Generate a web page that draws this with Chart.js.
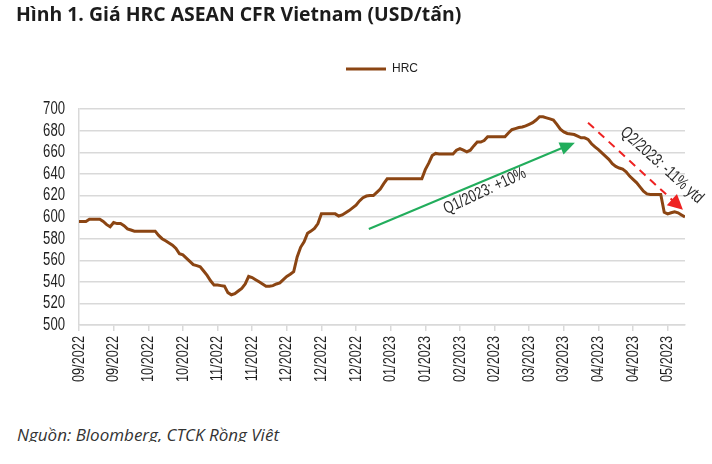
<!DOCTYPE html>
<html>
<head>
<meta charset="utf-8">
<script src="https://cdn.jsdelivr.net/npm/chart.js@4"></script>
<style>
  html, body { margin: 0; padding: 0; background: #fff; }
  body { width: 712px; height: 464px; position: relative; overflow: hidden; }
  #title { position: absolute; left: 16px; top: 0px; font: bold 19.4px "Open Sans", sans-serif; color: #1c1c1c; white-space: nowrap; }
  #wrap { position: absolute; left: 0; top: 0; width: 712px; height: 410px; }
  #note-clip { position: absolute; left: 0; top: 420px; width: 712px; height: 22px; overflow: hidden; }
  #note { position: absolute; left: 17px; top: 3px; font: italic 17px "Open Sans", sans-serif; color: #333; white-space: nowrap; }
</style>
</head>
<body>
<div id="wrap"><canvas id="c"></canvas></div>
<div id="title">Hình 1. Giá HRC ASEAN CFR Vietnam (USD/tấn)</div>
<div id="note-clip"><div id="note">Nguồn: Bloomberg, CTCK Rồng Việt</div></div>
<script>
// ------- Data (daily HRC price, USD/t) -------
const tickLabels = ['09/2022','09/2022','10/2022','10/2022','11/2022','11/2022','12/2022','12/2022','12/2022',
  '01/2023','01/2023','02/2023','02/2023','03/2023','03/2023','04/2023','04/2023','05/2023'];
const tickEvery = 10; // one label per 10 sessions

const hrc = [
  596, 596, 596, 598, 598, 598, 598, 596, 593, 591,
  595, 594, 594, 592, 589, 588, 587, 587, 587, 587,
  587, 587, 587, 583, 580, 578, 576, 574, 571, 566,
  565, 562, 559, 556, 555, 554, 550, 546, 541, 537,
  537, 536.5, 536, 530, 528, 529, 531.5, 534, 538, 545,
  544, 542, 540, 538, 536, 536, 536.5, 538, 539, 542,
  545, 547, 549.5, 563, 572, 577, 585, 587, 589.5, 594,
  603, 603, 603, 603, 603, 601, 602, 604, 606, 608.5,
  611, 615, 618, 619.5, 620, 620, 623, 626, 631, 635.5,
  635.5, 635.5, 635.5, 635.5, 635.5, 635.5, 635.5, 635.5, 635.5, 635.5,
  644, 650, 657, 659, 658.5, 658.5, 658.5, 658.5, 658.5, 662,
  663.5, 662, 660.5, 662, 666, 669.5, 669.5, 671, 674.5, 674.5,
  674.5, 674.5, 674.5, 674.5, 678, 681, 682, 683, 683.5, 684.5,
  686, 687.5, 690, 693, 693, 692, 691, 690, 686, 681.5,
  679, 677.5, 677, 676.5, 675, 673.5, 673.5, 672, 668, 665,
  662.5, 659.5, 656.5, 653.5, 649.5, 647, 645.5, 644.5, 642, 638,
  635, 632, 628, 624, 621.5, 621, 621, 621, 621, 604.5,
  603, 604, 605, 604, 602, 600
];

// annotations, in (session index, price)
const upArrow   = { from: [83.7, 589], to: [143.2, 669] };
const downArrow = { from: [147, 687.5], to: [174.4, 606.8] };
const upNote    = { at: [117.2, 624], angle: -25, text: 'Q1/2023: +10%' };
const downNote  = { at: [168.3, 648], angle: 42, text: 'Q2/2023: -11% ytd' };

// the source uses a tall narrow face; squeeze Liberation Sans to get close
const FACE = '"Liberation Sans", Arial, sans-serif';
const SQUEEZE = 0.75;
const BROWN = '#8b4513';
const GRID = '#d9d9d9';
const INK = '#1e1e1e';

function arrowHead(ctx, x0, y0, x1, y1, len, half) {
  const a = Math.atan2(y1 - y0, x1 - x0);
  ctx.beginPath();
  ctx.moveTo(x1, y1);
  ctx.lineTo(x1 - len * Math.cos(a) + half * Math.sin(a), y1 - len * Math.sin(a) - half * Math.cos(a));
  ctx.lineTo(x1 - len * Math.cos(a) - half * Math.sin(a), y1 - len * Math.sin(a) + half * Math.cos(a));
  ctx.closePath();
  ctx.fill();
}

function narrowText(ctx, text, x, y, rot, align) {
  ctx.save();
  ctx.translate(x, y);
  ctx.rotate(rot);
  ctx.scale(SQUEEZE, 1);
  ctx.textAlign = align;
  ctx.fillText(text, 0, 0);
  ctx.restore();
}

// tick labels in the narrow style
const narrowTicks = {
  id: 'narrowTicks',
  afterDraw(chart) {
    const { ctx, chartArea, scales: { x, y } } = chart;
    ctx.save();
    ctx.fillStyle = INK;
    ctx.textBaseline = 'middle';
    ctx.font = '17.5px ' + FACE;
    for (const t of y.ticks) {
      narrowText(ctx, String(t.value), chartArea.left - 14, y.getPixelForValue(t.value), 0, 'right');
    }
    ctx.font = '17px ' + FACE;
    for (const t of x.ticks) {
      const lab = tickLabels[Math.round(t.value / tickEvery)];
      if (!lab) continue;
      narrowText(ctx, lab, x.getPixelForValue(t.value), chartArea.bottom + 11, -Math.PI / 2, 'right');
    }
    ctx.restore();
  }
};

const notes = {
  id: 'notes',
  afterDatasetsDraw(chart) {
    const { ctx, scales: { x, y } } = chart;
    const px = p => [x.getPixelForValue(p[0]), y.getPixelForValue(p[1])];
    ctx.save();
    // green arrow
    let [x0, y0] = px(upArrow.from), [x1, y1] = px(upArrow.to);
    ctx.strokeStyle = ctx.fillStyle = '#22ad5c';
    ctx.lineWidth = 2;
    const a = Math.atan2(y1 - y0, x1 - x0);
    ctx.beginPath(); ctx.moveTo(x0, y0); ctx.lineTo(x1 - 10 * Math.cos(a), y1 - 10 * Math.sin(a)); ctx.stroke();
    arrowHead(ctx, x0, y0, x1, y1, 15, 6.5);
    // red dashed arrow
    [x0, y0] = px(downArrow.from); [x1, y1] = px(downArrow.to);
    ctx.strokeStyle = ctx.fillStyle = '#ee2222';
    const b = Math.atan2(y1 - y0, x1 - x0);
    ctx.setLineDash([8, 6]);
    ctx.beginPath(); ctx.moveTo(x0, y0); ctx.lineTo(x1 - 12 * Math.cos(b), y1 - 12 * Math.sin(b)); ctx.stroke();
    ctx.setLineDash([]);
    arrowHead(ctx, x0, y0, x1, y1, 15, 7.5);
    // texts
    ctx.fillStyle = '#2b2b2b';
    ctx.font = '17px ' + FACE;
    ctx.textBaseline = 'middle';
    for (const n of [upNote, downNote]) {
      const [tx, ty] = px(n.at);
      narrowText(ctx, n.text, tx, ty, n.angle * Math.PI / 180, 'center');
    }
    ctx.restore();
  }
};

new Chart(document.getElementById('c'), {
  type: 'line',
  data: {
    datasets: [{
      label: 'HRC',
      data: hrc.map((v, i) => ({ x: i, y: v })),
      borderColor: BROWN, backgroundColor: BROWN,
      borderWidth: 3, pointRadius: 0, tension: 0
    }]
  },
  options: {
    responsive: true, maintainAspectRatio: false, animation: false,
    layout: { padding: { top: 30, left: 0, right: 27, bottom: 0 } },
    plugins: {
      legend: {
        fullSize: false,
        labels: {
          usePointStyle: true, pointStyle: 'line', pointStyleWidth: 40,
          color: INK, font: { family: FACE, size: 12 }, padding: 33
        }
      },
      // empty spacer between legend and plot
      subtitle: { display: true, text: ' ', weight: 500, font: { size: 1 }, padding: { top: 0, bottom: 23 } },
      tooltip: { enabled: false }
    },
    scales: {
      x: {
        type: 'linear', min: 0, max: hrc.length - 1,
        afterFit: s => { s.height = 85; },
        grid: { drawOnChartArea: false, drawTicks: true, tickLength: 6, color: GRID, lineWidth: 1.5 },
        border: { color: GRID, width: 1.5 },
        ticks: {
          stepSize: tickEvery, includeBounds: false, autoSkip: false, minRotation: 90, maxRotation: 90,
          color: 'rgba(0,0,0,0)', font: { family: FACE, size: 10 },
          callback: v => tickLabels[v / tickEvery]
        }
      },
      y: {
        min: 500, max: 700,
        afterFit: s => { s.width = 79; },
        grid: { color: GRID, lineWidth: 1.5, drawTicks: false },
        border: { color: GRID, width: 1.5 },
        ticks: { stepSize: 20, maxTicksLimit: 20, padding: 13, color: 'rgba(0,0,0,0)', font: { family: FACE, size: 8 } }
      }
    }
  },
  plugins: [notes, narrowTicks]
});
</script>
</body>
</html>
